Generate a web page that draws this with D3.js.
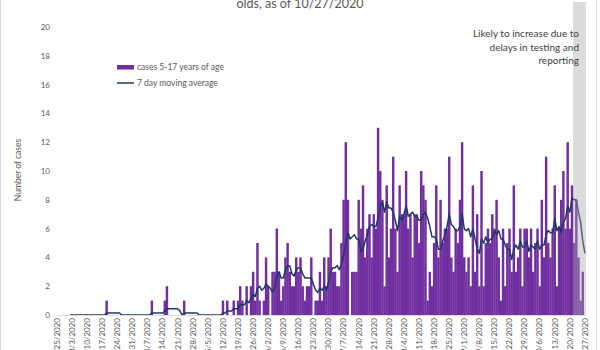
<!DOCTYPE html>
<html lang="en">
<head>
<meta charset="utf-8">
<title>Cases 5-17 years of age</title>
<script src="https://cdnjs.cloudflare.com/ajax/libs/d3/7.8.5/d3.min.js"></script>
<style>
  body { margin: 0; background: #fff; }
  svg { display: block; font-family: Lato, "Open Sans", sans-serif; }
  .axis text { font-size: 8px; fill: #595959; font-family: Lato, "Open Sans", sans-serif; }
  .axis .domain { stroke: #d9d9d9; }
  .legend text { font-size: 8.5px; fill: #595959; }
</style>
</head>
<body>
<svg width="600" height="350"></svg>
<script>

// daily counts, one array per month (first day is 2/25/2020)
var startDate = "2/25/2020";
var casesFeb = [0,0,0,0,0];
var casesMar = [0,0,0,0,0,0,0,0,0,0,0,0,0,0,0,0,0,0,1,0,0,0,0,0,0,0,0,0,0,0,0];
var casesApr = [0,0,0,0,0,0,0,0,1,0,0,0,0,0,1,2,0,0,0,0,0,0,0,1,0,0,0,0,0,0];
var casesMay = [0,0,0,0,0,0,0,0,0,0,0,1,0,1,0,0,1,0,1,2,1,0,2,0,2,3,1,5,1,0,1];
var casesJun = [4,2,0,3,3,6,3,1,2,4,5,3,2,2,4,3,4,2,1,2,2,4,0,1,1,3,1,4,2,4];
var casesJul = [6,3,3,2,2,5,8,12,8,0,3,3,3,8,6,9,4,6,7,4,7,6,13,10,8,2,9,4,6,11,6];
var casesAug = [3,9,7,7,10,6,7,4,7,7,5,10,9,8,1,3,2,5,9,4,8,5,6,6,11,4,3,6,5,8,12];
var casesSep = [4,3,4,2,9,3,7,2,10,2,5,6,5,7,6,8,4,1,6,2,5,6,3,9,3,4,6,2,6,6];
var casesOct = [4,6,3,5,6,2,8,4,11,5,4,6,9,2,6,8,10,6,12,6,9,5,8,4,1,3,0];

var yTicks = [0,2,4,6,8,10,12,14,16,18,20];
var weekLabels = ["2/25/2020","3/3/2020","3/10/2020","3/17/2020","3/24/2020","3/31/2020",
  "4/7/2020","4/14/2020","4/21/2020","4/28/2020","5/5/2020","5/12/2020","5/19/2020",
  "5/26/2020","6/2/2020","6/9/2020","6/16/2020","6/23/2020","6/30/2020","7/7/2020",
  "7/14/2020","7/21/2020","7/28/2020","8/4/2020","8/11/2020","8/18/2020","8/25/2020",
  "9/1/2020","9/8/2020","9/15/2020","9/22/2020","9/29/2020","10/6/2020","10/13/2020",
  "10/20/2020","10/27/2020"];
var shadeFrom = "10/22/2020";
var legendLabels = ["cases 5-17 years of age", "7 day moving average"];
var noteLines = ["Likely to increase due to", "delays in testing and", "reporting"];
var titleText = "olds, as of 10/27/2020";
var yTitle = "Number of cases";

var purple = "#7030a0",
    navy = "#1f3864";

var counts = [].concat(casesFeb, casesMar, casesApr, casesMay, casesJun,
                       casesJul, casesAug, casesSep, casesOct);

var parse = d3.timeParse("%m/%d/%Y"),
    fmt = d3.timeFormat("%-m/%-d/%Y"),
    t0 = parse(startDate);

var data = counts.map(function(c, i) {
  return {date: fmt(d3.timeDay.offset(t0, i)), cases: c};
});

// 7 period moving average trendline, starts on the 7th day
var avg = data.slice(6).map(function(d, i) {
  return {date: d.date, value: d3.mean(data.slice(i, i + 7), function(e) { return e.cases; })};
});

var svg = d3.select("svg");

var x = d3.scaleBand()
    .domain(data.map(function(d) { return d.date; }))
    .range([56, 586]);

var y = d3.scaleLinear().domain([0, 20]).range([315, 27]);

var cx = function(dt) { return x(dt) + x.bandwidth() / 2; };

// chart border
svg.append("rect")
    .attr("x", 0.5).attr("y", -1)
    .attr("width", 596).attr("height", 352)
    .attr("fill", "none").attr("stroke", "#d9d9d9");

svg.append("text")
    .attr("x", 300).attr("y", 8)
    .attr("text-anchor", "middle")
    .attr("font-size", 12.5)
    .attr("fill", "#595959")
    .text(titleText);

svg.append("g")
    .attr("class", "axis")
    .attr("transform", "translate(53,0)")
    .call(d3.axisLeft(y).tickValues(yTicks).tickSize(0).tickPadding(3))
    .call(function(g) { g.select(".domain").remove(); });

svg.append("text")
    .attr("transform", "translate(21,170) rotate(-90)")
    .attr("text-anchor", "middle")
    .attr("font-size", 8.5)
    .attr("fill", "#595959")
    .text(yTitle);

// bars overlap a hair so neighbours do not leave seams
svg.append("g").selectAll(".bar")
    .data(data)
    .enter().append("rect")
    .attr("class", "bar")
    .attr("x", function(d) { return x(d.date) - 0.15; })
    .attr("width", x.bandwidth() + 0.3)
    .attr("y", function(d) { return y(d.cases); })
    .attr("height", function(d) { return y(0) - y(d.cases); })
    .attr("fill", purple);

var line = d3.line()
    .x(function(d) { return cx(d.date); })
    .y(function(d) { return y(d.value); });

svg.append("path")
    .datum(avg)
    .attr("d", line)
    .attr("fill", "none")
    .attr("stroke", navy)
    .attr("stroke-width", 1.5)
    .attr("stroke-linejoin", "round");

var xAxis = svg.append("g")
    .attr("class", "axis")
    .attr("transform", "translate(0,315)")
    .call(d3.axisBottom(x).tickValues(weekLabels).tickSize(0).tickSizeOuter(0).tickPadding(0));

xAxis.selectAll("text")
    .attr("transform", "rotate(-90)")
    .attr("text-anchor", "end")
    .attr("x", -3)
    .attr("y", 0)
    .attr("dy", "0.35em");

// shaded "incomplete" zone over the last days
svg.append("rect")
    .attr("x", x(shadeFrom))
    .attr("y", 2)
    .attr("width", x.range()[1] - x(shadeFrom))
    .attr("height", y(0) - 2)
    .attr("fill", "#a6a6a6")
    .attr("fill-opacity", 0.4);

svg.append("text")
    .attr("text-anchor", "end")
    .attr("font-size", 10)
    .attr("fill", "#404040")
    .selectAll("tspan")
    .data(noteLines)
    .enter().append("tspan")
    .attr("x", 579)
    .attr("y", function(d, i) { return 37 + i * 13.5; })
    .text(function(d) { return d; });

var legend = svg.append("g").attr("class", "legend");

legend.append("rect")
    .attr("x", 117).attr("y", 65)
    .attr("width", 17).attr("height", 4.5)
    .attr("fill", purple);

legend.append("line")
    .attr("x1", 117).attr("x2", 134)
    .attr("y1", 83).attr("y2", 83)
    .attr("stroke", navy)
    .attr("stroke-width", 1.5);

legend.selectAll("text")
    .data(legendLabels)
    .enter().append("text")
    .attr("x", 137)
    .attr("y", function(d, i) { return 67 + i * 16; })
    .attr("dy", "0.35em")
    .text(function(d) { return d; });

</script>
</body>
</html>
